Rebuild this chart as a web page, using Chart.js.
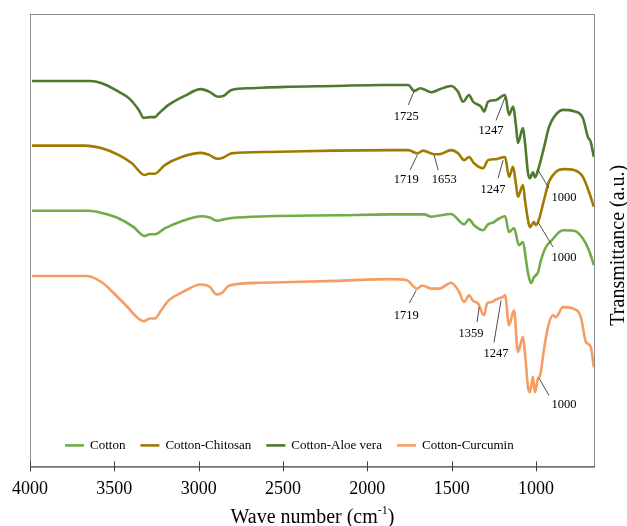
<!DOCTYPE html>
<html>
<head>
<meta charset="utf-8">
<script src="https://cdn.jsdelivr.net/npm/chart.js@4.4.0/dist/chart.umd.min.js"></script>
<style>
  html, body { margin: 0; padding: 0; background: #fff; }
</style>
</head>
<body>
<canvas id="ftir" width="627" height="526"></canvas>
<script>
// series names and colours (legend order)
const seriesNames = ['Cotton', 'Cotton-Chitosan', 'Cotton-Aloe vera', 'Cotton-Curcumin'];
const seriesColors = ['#70ad47', '#a07a00', '#4e7a2e', '#f59d62'];
const tickValues = [4000, 3500, 3000, 2500, 2000, 1500, 1000];

// [wave number, transmittance (offset, a.u.)]
const cotton = [[3988,56.5],[3651,56.5],[3574,56.0],[3473,54.8],[3385,52.9],[3320,50.9],[3290,51.3],[3260,51.3],[3201,52.6],[3101,54.2],[2982,55.3],[2935,55.0],[2888,54.3],[2852,54.6],[2805,54.9],[2586,55.3],[2195,55.5],[1858,55.7],[1663,55.7],[1621,55.2],[1503,55.8],[1426,53.5],[1397,54.6],[1367,53.3],[1314,52.2],[1284,53.5],[1249,54.0],[1219,54.8],[1183,55.3],[1160,51.8],[1130,52.7],[1101,48.9],[1077,49.6],[1059,45.6],[1047,42.7],[1030,40.5],[1012,41.8],[988,42.9],[970,45.6],[941,48.5],[911,49.8],[840,52.2],[775,52.1],[722,50.4],[686,47.8],[657,44.5]];
const chitosan = [[3988,70.9],[3675,70.9],[3574,70.3],[3473,68.8],[3396,67.0],[3320,64.4],[3296,64.7],[3260,64.7],[3201,66.6],[3101,68.4],[2982,69.3],[2935,68.8],[2888,68.0],[2852,68.3],[2805,69.2],[2586,69.5],[2195,69.8],[1858,69.9],[1757,69.9],[1704,69.2],[1669,69.8],[1604,69.0],[1574,69.0],[1503,69.9],[1462,69.2],[1426,67.7],[1397,68.4],[1367,67.0],[1314,65.9],[1284,67.7],[1237,67.9],[1183,68.4],[1160,64.0],[1136,66.2],[1118,62.2],[1107,59.6],[1077,62.2],[1065,58.8],[1047,54.4],[1036,52.9],[1012,54.0],[1000,53.3],[982,54.6],[953,58.8],[923,62.9],[882,65.1],[834,65.7],[775,65.5],[722,64.0],[686,60.7],[657,57.4]];
const aloeVera = [[3988,85.2],[3645,85.2],[3574,84.7],[3473,82.8],[3414,81.4],[3355,78.8],[3325,77.0],[3290,77.2],[3260,77.2],[3237,78.0],[3178,79.9],[3083,81.9],[2988,83.4],[2935,82.8],[2888,81.7],[2852,81.9],[2805,83.2],[2686,83.6],[2491,83.9],[2195,84.1],[1917,84.3],[1757,84.3],[1722,83.0],[1686,83.6],[1621,82.7],[1574,83.3],[1503,84.1],[1462,82.8],[1432,80.6],[1397,82.1],[1373,80.6],[1325,79.5],[1308,78.4],[1284,80.6],[1237,81.0],[1207,81.7],[1183,82.1],[1160,77.7],[1136,79.5],[1118,75.1],[1107,71.5],[1077,74.8],[1065,71.5],[1047,64.8],[1036,63.7],[1018,65.0],[1006,63.9],[988,65.5],[953,70.4],[923,75.0],[894,77.2],[840,78.8],[775,78.5],[722,77.0],[692,72.8],[675,71.7],[657,68.4]];
const curcumin = [[3988,42.1],[3663,42.1],[3574,40.7],[3485,37.6],[3426,35.4],[3367,33.0],[3325,32.1],[3290,32.7],[3260,32.7],[3219,34.7],[3178,36.7],[3101,38.4],[2988,40.2],[2935,39.7],[2894,38.0],[2864,38.3],[2817,40.0],[2627,40.6],[2195,41.0],[1858,41.4],[1769,41.2],[1704,39.3],[1675,40.0],[1621,39.3],[1574,39.3],[1503,40.6],[1456,38.6],[1426,36.3],[1397,37.8],[1373,36.6],[1343,36.0],[1308,33.4],[1290,36.0],[1266,36.3],[1237,36.9],[1195,37.5],[1183,37.8],[1160,31.2],[1130,34.5],[1107,25.3],[1077,28.6],[1065,25.0],[1047,17.5],[1036,16.4],[1018,19.8],[1006,16.4],[988,19.5],[976,20.1],[953,25.7],[929,30.8],[899,33.4],[882,33.0],[840,35.2],[781,34.9],[734,33.0],[704,27.5],[675,26.4],[657,21.9]];

// peak labels: text, point on curve, end of leader line, text centre (data units)
const peakLabels = [
  { text: '1725', from: [1722, 83.0], to: [1757, 79.9], at: [1769, 77.2] },
  { text: '1247', from: [1183, 81.6], to: [1237, 76.5], at: [1266, 74.1] },
  { text: '1000', from: [988, 65.5],  to: [923, 61.5],  at: [834, 59.3] },
  { text: '1719', from: [1704, 68.8], to: [1746, 65.5], at: [1769, 63.3] },
  { text: '1653', from: [1604, 68.8], to: [1580, 65.5], at: [1544, 63.3] },
  { text: '1247', from: [1195, 67.7], to: [1225, 63.7], at: [1255, 61.1] },
  { text: '1000', from: [988, 54.0],  to: [899, 48.5],  at: [834, 46.2] },
  { text: '1719', from: [1710, 38.9], to: [1751, 36.1], at: [1769, 33.4] },
  { text: '1359', from: [1337, 35.2], to: [1349, 31.9], at: [1385, 29.4] },
  { text: '1247', from: [1207, 36.7], to: [1249, 27.4], at: [1237, 25.0] },
  { text: '1000', from: [982, 19.5],  to: [923, 15.7],  at: [834, 13.7] }
];

const serif = '"Liberation Serif", "Times New Roman", serif';
const allSeries = [cotton, chitosan, aloeVera, curcumin];

const datasets = allSeries.map((s, i) => ({
  label: seriesNames[i],
  data: s.map(p => ({ x: p[0], y: p[1] })),
  borderColor: seriesColors[i],
  borderWidth: 2.6,
  pointRadius: 0,
  cubicInterpolationMode: 'monotone',
  fill: false
}));

// frame, crossing tick marks, peak labels, inner legend and axis titles
const decorations = {
  id: 'decorations',
  afterDraw(chart) {
    const ctx = chart.ctx;
    const a = chart.chartArea;
    const xs = chart.scales.x, ys = chart.scales.y;
    ctx.save();

    ctx.strokeStyle = '#8c8c8c';
    ctx.lineWidth = 1;
    ctx.strokeRect(a.left + 0.5, a.top + 0.5, a.right - a.left - 1, a.bottom - a.top);
    ctx.strokeStyle = '#404040';
    ctx.beginPath();
    ctx.moveTo(a.left, a.bottom + 0.5);
    ctx.lineTo(a.right, a.bottom + 0.5);
    tickValues.forEach(v => {
      const px = Math.round(xs.getPixelForValue(v)) + 0.5;
      ctx.moveTo(px, a.bottom - 5);
      ctx.lineTo(px, a.bottom + 5);
    });
    ctx.stroke();

    // peak labels
    ctx.strokeStyle = '#3a3a3a';
    ctx.lineWidth = 0.9;
    ctx.fillStyle = '#000';
    ctx.font = '12.5px ' + serif;
    ctx.textAlign = 'center';
    ctx.textBaseline = 'middle';
    peakLabels.forEach(p => {
      ctx.beginPath();
      ctx.moveTo(xs.getPixelForValue(p.from[0]), ys.getPixelForValue(p.from[1]));
      ctx.lineTo(xs.getPixelForValue(p.to[0]), ys.getPixelForValue(p.to[1]));
      ctx.stroke();
      ctx.fillText(p.text, xs.getPixelForValue(p.at[0]), ys.getPixelForValue(p.at[1]));
    });

    // legend inside the plot
    ctx.font = '13px ' + serif;
    ctx.textAlign = 'left';
    let lx = a.left + 35;
    const ly = a.bottom - 21;
    chart.data.datasets.forEach(ds => {
      ctx.strokeStyle = ds.borderColor;
      ctx.lineWidth = 2.6;
      ctx.beginPath();
      ctx.moveTo(lx, ly);
      ctx.lineTo(lx + 19, ly);
      ctx.stroke();
      ctx.fillText(ds.label, lx + 25, ly);
      lx += 25 + ctx.measureText(ds.label).width + 15;
    });

    // x title with superscript
    const main = 'Wave number (cm', sup = '-1', close = ')';
    ctx.font = '20px ' + serif;
    const w1 = ctx.measureText(main).width, w3 = ctx.measureText(close).width;
    ctx.font = '12px ' + serif;
    const w2 = ctx.measureText(sup).width;
    let tx = (a.left + a.right) / 2 - (w1 + w2 + w3) / 2;
    const ty = 518;
    ctx.font = '20px ' + serif;
    ctx.fillText(main, tx, ty);
    ctx.font = '12px ' + serif;
    ctx.fillText(sup, tx + w1, ty - 7);
    ctx.font = '20px ' + serif;
    ctx.fillText(close, tx + w1 + w2, ty);

    // y title on the right, reading upwards
    ctx.translate(619, (a.top + a.bottom) / 2 + 5);
    ctx.rotate(-Math.PI / 2);
    ctx.textAlign = 'center';
    ctx.fillText('Transmittance (a.u.)', 0, 0);
    ctx.restore();
  }
};

new Chart(document.getElementById('ftir'), {
  type: 'line',
  data: { datasets },
  options: {
    responsive: false,
    animation: false,
    layout: { padding: { left: 29, right: 32, top: 14, bottom: 14 } },
    plugins: { legend: { display: false }, tooltip: { enabled: false } },
    scales: {
      x: {
        type: 'linear',
        reverse: true,
        min: 650,
        max: 4000,
        afterBuildTicks: scale => { scale.ticks = tickValues.map(v => ({ value: v })); },
        grid: { display: false, drawTicks: false },
        border: { display: false },
        ticks: {
          color: '#000',
          font: { family: serif, size: 18 },
          padding: 12,
          maxRotation: 0,
          callback: v => String(v)
        }
      },
      y: {
        display: false,
        min: 0,
        max: 100
      }
    }
  },
  plugins: [decorations]
});
</script>
</body>
</html>
